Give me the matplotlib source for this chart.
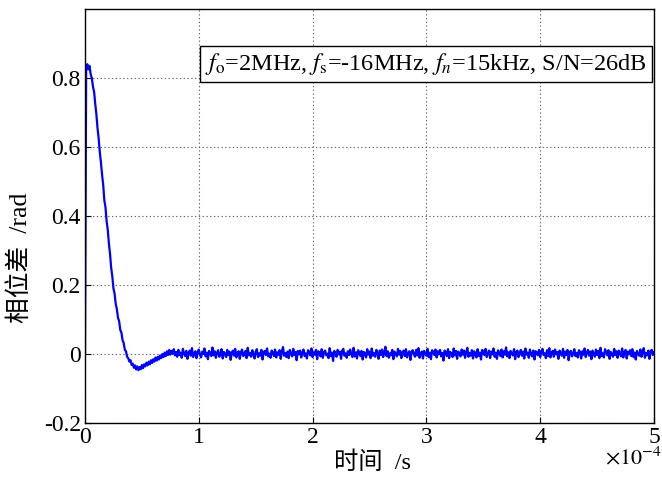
import numpy as np
import matplotlib
matplotlib.use("Agg")
import matplotlib.pyplot as plt

plt.rcParams['font.family'] = ['Liberation Serif', 'Noto Sans CJK SC']
plt.rcParams['mathtext.fontset'] = 'stix'
plt.rcParams['axes.unicode_minus'] = False

# sample step (s)
dt = 1e-6
# phase difference (rad) during transient, t = 0 .. 0.79e-4 s
phase_transient = [
    0.000, 0.820, 0.840, 0.825, 0.835, 0.810, 0.800, 0.775, 0.760, 0.725,
    0.695, 0.655, 0.625, 0.585, 0.555, 0.520, 0.490, 0.445, 0.425, 0.385,
    0.360, 0.320, 0.290, 0.250, 0.225, 0.190, 0.175, 0.145, 0.130, 0.105,
    0.095, 0.070, 0.062, 0.040, 0.032, 0.012, 0.008, -0.008, -0.012, -0.022,
    -0.018, -0.032, -0.028, -0.040, -0.033, -0.045, -0.036, -0.047, -0.038, -0.044,
    -0.032, -0.041, -0.030, -0.036, -0.025, -0.033, -0.022, -0.030, -0.018, -0.026,
    -0.015, -0.022, -0.010, -0.019, -0.008, -0.016, -0.004, -0.012, 0.000, -0.009,
    0.004, -0.006, 0.008, -0.003, 0.012, -0.002, 0.009, 0.001, 0.014, -0.004,
]
# steady-state phase difference (rad), t = 0.8e-4 .. 5e-4 s
phase_steady = [
    0.006, -0.008, 0.012, -0.003, 0.004, -0.011, 0.015, 0.002, -0.006, 0.009,
    -0.014, 0.003, 0.010, -0.005, 0.017, -0.009, 0.001, 0.008, -0.012, 0.005,
    0.013, -0.002, -0.010, 0.007, 0.000, 0.016, -0.007, 0.004, -0.015, 0.009,
    0.002, -0.006, 0.019, -0.004, 0.008, -0.011, 0.003, 0.011, -0.008, -0.001,
    0.014, -0.013, 0.006, 0.001, -0.009, 0.012, -0.003, 0.007, -0.017, 0.004,
    0.010, -0.005, 0.015, -0.010, 0.002, 0.008, -0.014, 0.005, 0.013, -0.006,
    -0.001, 0.009, -0.012, 0.018, -0.004, 0.003, -0.008, 0.011, 0.000, -0.013,
    0.007, 0.014, -0.009, 0.002, -0.005, 0.012, -0.016, 0.006, 0.009, -0.003,
    0.016, -0.007, 0.001, -0.011, 0.010, 0.004, -0.006, 0.013, -0.010, 0.005,
    -0.002, 0.011, -0.014, 0.008, 0.020, -0.005, 0.003, -0.009, 0.007, -0.012,
    0.012, 0.001, -0.007, 0.015, -0.003, 0.006, -0.018, 0.009, -0.001, 0.010,
    -0.010, 0.004, 0.013, -0.006, 0.002, -0.013, 0.011, 0.007, -0.004, 0.016,
    -0.009, 0.005, -0.002, 0.012, -0.015, 0.008, 0.003, -0.007, 0.014, -0.011,
    0.006, 0.010, -0.004, 0.001, -0.012, 0.017, -0.006, 0.004, -0.020, 0.009,
    0.003, -0.008, 0.012, -0.001, 0.007, -0.014, 0.010, 0.015, -0.005, 0.002,
    -0.011, 0.008, -0.003, 0.013, 0.000, -0.009, 0.018, -0.007, 0.005, -0.013,
    0.011, 0.004, -0.006, 0.009, -0.016, 0.006, 0.002, -0.010, 0.014, -0.002,
    0.007, -0.012, 0.016, -0.005, 0.003, -0.008, 0.012, 0.001, -0.014, 0.010,
    -0.003, 0.013, -0.009, 0.005, 0.021, -0.006, 0.008, -0.011, 0.002, -0.004,
    0.012, -0.015, 0.007, 0.000, -0.007, 0.015, -0.002, 0.009, -0.012, 0.004,
    0.010, -0.006, 0.014, -0.010, 0.003, 0.008, -0.017, 0.006, 0.011, -0.001,
    -0.008, 0.012, -0.004, 0.017, -0.011, 0.002, 0.007, -0.013, 0.009, 0.001,
    -0.005, 0.015, -0.009, 0.004, -0.015, 0.011, 0.006, -0.003, 0.013, -0.010,
    0.008, -0.001, 0.012, -0.007, 0.003, -0.019, 0.010, 0.005, -0.006, 0.014,
    -0.012, 0.006, 0.001, -0.009, 0.016, -0.004, 0.009, -0.014, 0.007, 0.002,
    -0.007, 0.013, -0.002, 0.010, -0.011, 0.005, 0.018, -0.008, 0.003, -0.005,
    0.011, -0.013, 0.008, 0.000, -0.010, 0.014, -0.006, 0.004, -0.016, 0.012,
    0.006, -0.003, 0.015, -0.009, 0.002, 0.010, -0.012, 0.007, -0.001, 0.016,
    -0.008, 0.004, -0.014, 0.011, 0.003, -0.006, 0.013, -0.010, 0.008, -0.002,
    0.019, -0.007, 0.005, -0.012, 0.009, 0.001, -0.004, 0.014, -0.015, 0.006,
    0.010, -0.009, 0.003, 0.012, -0.005, 0.007, -0.013, 0.016, -0.002, 0.004,
    -0.011, 0.013, 0.000, -0.007, 0.010, -0.016, 0.008, 0.005, -0.004, 0.012,
    -0.009, 0.006, 0.015, -0.003, 0.002, -0.012, 0.011, -0.006, 0.017, -0.010,
    0.004, 0.009, -0.008, 0.013, -0.001, 0.006, -0.014, 0.010, 0.002, -0.005,
    0.015, -0.011, 0.007, -0.003, 0.012, -0.018, 0.005, 0.009, -0.007, 0.001,
    0.014, -0.006, 0.003, -0.010, 0.011, 0.006, -0.013, 0.008, -0.002, 0.016,
    -0.009, 0.004, 0.012, -0.005, 0.007, -0.015, 0.010, 0.001, -0.008, 0.013,
    -0.003, 0.009, -0.012, 0.018, -0.006, 0.002, -0.010, 0.014, 0.005, -0.004,
    0.011, -0.014, 0.006, 0.000, -0.008, 0.015, -0.003, 0.008, -0.011, 0.010,
    0.003, -0.007, 0.016, -0.010, 0.005, 0.012, -0.013, 0.007, -0.001, 0.011,
    -0.006, 0.014, -0.009, 0.004, -0.016, 0.009, 0.002, -0.005, 0.013, -0.008,
    0.006, 0.017, -0.011, 0.003, -0.004, 0.010, -0.014, 0.008, 0.012, -0.003,
    0.005,
]

xticks = [0, 1e-4, 2e-4, 3e-4, 4e-4, 5e-4]
xtick_labels = ['0', '1', '2', '3', '4', '5']
yticks = [-0.2, 0, 0.2, 0.4, 0.6, 0.8]
ytick_labels = ['-0.2', '0', '0.2', '0.4', '0.6', '0.8']

phase = np.concatenate([phase_transient, phase_steady])
t = np.arange(len(phase)) * dt

fig = plt.figure(figsize=(6.62, 4.79), dpi=100)
ax = fig.add_axes([0.1284, 0.1169, 0.8595, 0.8643])

ax.plot(t, phase, color='#0000ff', lw=1.6)

ax.set_xlim(0, 5e-4)
ax.set_ylim(-0.2, 1.0)
ax.set_xticks(xticks)
ax.set_xticklabels(xtick_labels)
ax.set_yticks(yticks)
ax.set_yticklabels(ytick_labels)
ax.grid(True, linestyle=(0, (1.2, 2.2)), color='#666666', lw=0.8)
ax.tick_params(direction='in', length=4, labelsize=17, width=0.8, pad=3)
for s in ax.spines.values():
    s.set_linewidth(1.0)

ax.set_xlabel('时间  /s', fontsize=17.5, va='top')
ax.xaxis.set_label_coords(0.505, -0.068)
ax.set_ylabel('相位差  /rad', fontsize=18.5)
ax.yaxis.set_label_coords(-0.093, 0.40)

ax.text(1.013, -0.058, r'$\times10^{-4}$', transform=ax.transAxes,
        ha='right', va='top', fontsize=16)

ax.text(0.987, 0.867,
        r'$f_{\mathrm{o}}$=2MHz, $f_{\mathrm{s}}$=-16MHz, $f_n$=15kHz, S/N=26dB',
        transform=ax.transAxes, ha='right', va='center', fontsize=17.5,
        bbox=dict(boxstyle='square,pad=0.22', fc='white', ec='black', lw=1.0))

fig.savefig('out.png', dpi=100)
